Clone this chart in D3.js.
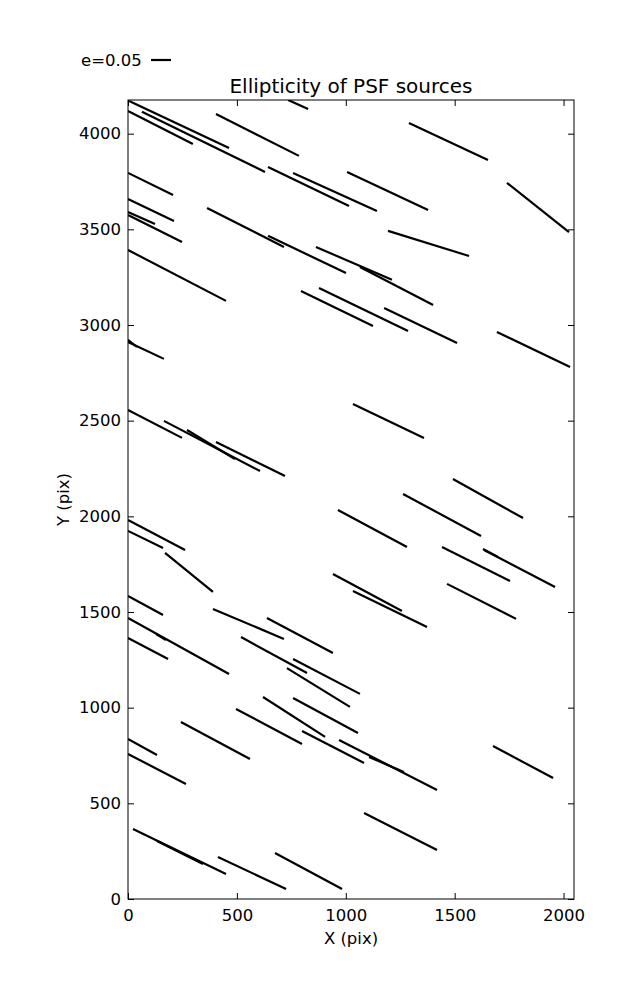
<!DOCTYPE html>
<html><head><meta charset="utf-8">
<script src="https://cdn.jsdelivr.net/npm/d3@7"></script>
<style>body{margin:0;background:#fff}text{font-family:"DejaVu Sans",sans-serif}</style>
</head><body><svg id="c" width="637" height="1000"></svg>
<script>
// segment endpoints in pixel (CCD) coordinates
const x0s=[5,0,64,404,735,643,758,1006,1290,1740,1194,0,0,0,0,0,363,643,863,1065,794,877,1176,1694,0,0,0,165,271,404,1033,1492,1263,964,1442,1635,1630,941,1033,1465,0,0,170,0,0,129,0,390,638,519,758,730,620,758,496,799,969,1107,1676,1084,0,0,243,23,133,413,675];
const y0s=[4171,4119,4114,4103,4176,3826,3795,3800,4056,3743,3492,3795,3659,3591,3575,3392,3612,3466,3408,3303,3178,3194,3089,2964,2922,2911,2556,2499,2451,2389,2587,2195,2117,2033,1840,1824,1829,1699,1610,1647,1981,1924,1809,1584,1469,1385,1364,1516,1469,1369,1254,1207,1056,1051,993,878,831,742,800,450,836,758,925,366,303,220,240];
const x1s=[464,298,629,785,827,1015,1143,1378,1653,2025,1566,207,211,124,248,450,716,1001,1212,1401,1125,1286,1511,2030,41,165,248,606,491,721,1359,1814,1621,1281,1754,1961,1699,1258,1373,1782,262,161,390,161,464,174,184,716,941,822,1065,1019,905,1056,799,1084,1419,1267,1952,1419,133,266,560,450,344,726,983];
const y1s=[3925,3946,3800,3884,4129,3622,3596,3601,3863,3486,3361,3680,3544,3528,3434,3126,3408,3272,3236,3105,2995,2969,2906,2781,2885,2823,2410,2237,2300,2211,2410,1991,1897,1840,1662,1631,1788,1505,1422,1464,1824,1835,1605,1484,1176,1354,1254,1359,1286,1181,1072,1004,847,868,810,711,570,664,632,256,753,601,732,131,183,52,52];
const xTicks=[0,500,1000,1500,2000];
const yTicks=[0,500,1000,1500,2000,2500,3000,3500,4000];
const titleText="Ellipticity of PSF sources";
const xLabel="X (pix)", yLabel="Y (pix)", legendLabel="e=0.05";

const svg=d3.select("#c");
const L=128,R=574,T=100,B=899;
const x=d3.scaleLinear().domain([0,2048]).range([L,R]);
const y=d3.scaleLinear().domain([0,4176]).range([B,T]);

svg.append("defs").append("clipPath").attr("id","clip").append("rect")
  .attr("x",L).attr("y",T).attr("width",R-L).attr("height",B-T);

const segs=x0s.map((d,i)=>({x0:d,y0:y0s[i],x1:x1s[i],y1:y1s[i]}));
svg.append("g").attr("clip-path","url(#clip)").selectAll("line").data(segs).enter().append("line")
  .attr("x1",d=>x(d.x0)).attr("y1",d=>y(d.y0)).attr("x2",d=>x(d.x1)).attr("y2",d=>y(d.y1))
  .attr("stroke","#000").attr("stroke-width",2.2);

// axes
const tl=6, fs=16.5, fmt=d3.format("d");
const gx=svg.append("g").attr("transform",`translate(0,${B})`).call(d3.axisBottom(x).tickValues(xTicks).tickSizeInner(-tl).tickSizeOuter(0).tickPadding(10).tickFormat(fmt));
const gxt=svg.append("g").attr("transform",`translate(0,${T})`).call(d3.axisTop(x).tickValues(xTicks).tickSizeInner(-tl).tickSizeOuter(0).tickFormat(""));
const gy=svg.append("g").attr("transform",`translate(${L},0)`).call(d3.axisLeft(y).tickValues(yTicks).tickSizeInner(-tl).tickSizeOuter(0).tickPadding(7).tickFormat(fmt));
const gyr=svg.append("g").attr("transform",`translate(${R},0)`).call(d3.axisRight(y).tickValues(yTicks).tickSizeInner(-tl).tickSizeOuter(0).tickFormat(""));
[gx,gxt,gy,gyr].forEach(g=>{g.select(".domain").remove();g.selectAll("line").attr("stroke","#000");g.selectAll("text").attr("font-size",fs).attr("fill","#000").attr("font-family","DejaVu Sans");});
svg.append("rect").attr("x",L).attr("y",T).attr("width",R-L).attr("height",B-T).attr("fill","none").attr("stroke","#000").attr("stroke-width",1);

svg.append("text").attr("x",(L+R)/2).attr("y",T-7).attr("text-anchor","middle").attr("font-size",20).text(titleText);
svg.append("text").attr("x",(L+R)/2).attr("y",944).attr("text-anchor","middle").attr("font-size",fs).text(xLabel);
svg.append("text").attr("transform",`translate(69,${(T+B)/2}) rotate(-90)`).attr("text-anchor","middle").attr("font-size",fs).text(yLabel);

svg.append("text").attr("x",81).attr("y",66).attr("font-size",fs).text(legendLabel);
svg.append("line").attr("x1",151).attr("x2",171).attr("y1",60).attr("y2",60).attr("stroke","#000").attr("stroke-width",2.2);
</script></body></html>
